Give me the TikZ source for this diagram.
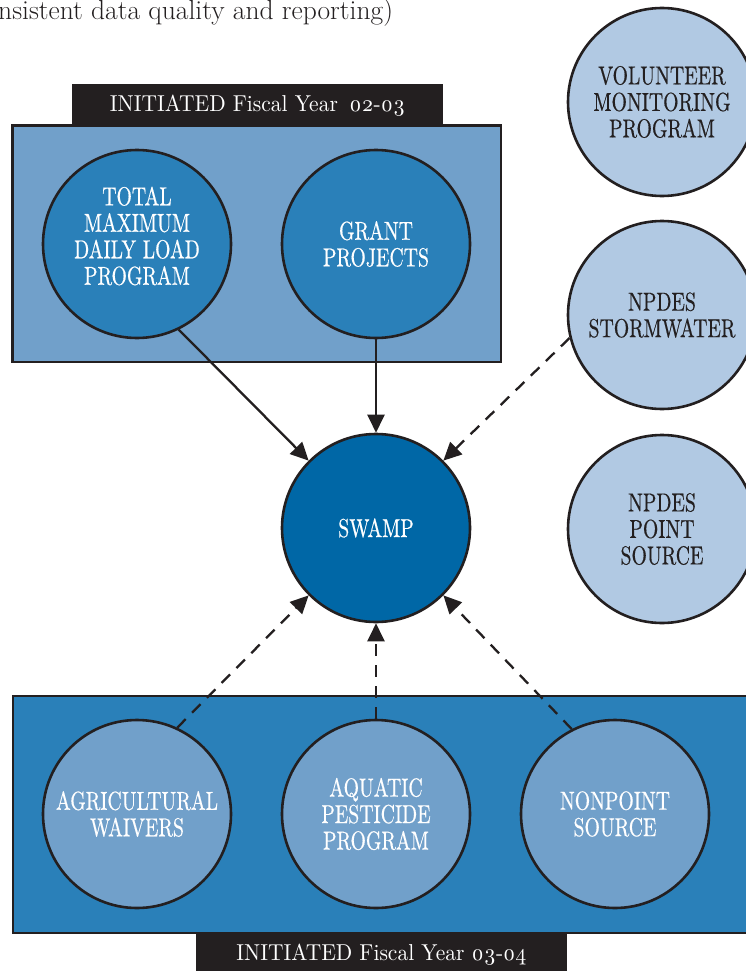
\documentclass[tikz,border=0pt]{standalone}
\usepackage{fontspec}
\usetikzlibrary{arrows.meta}
\newfontfamily\condfont{lmroman10-regular.otf}[FakeStretch=0.76,FakeBold=0.5]
\newfontfamily\labelfont{lmroman10-regular.otf}[FakeStretch=0.935,Numbers=OldStyle]
\definecolor{dark}{HTML}{231F20}
\definecolor{lightbox}{HTML}{71A0CA}
\definecolor{midblue}{HTML}{2A80B9}
\definecolor{swampblue}{HTML}{0067A6}
\definecolor{pale}{HTML}{B1C9E3}
\tikzset{
  circ/.style={circle, draw=dark, line width=2.6pt, minimum size=188pt, inner sep=0pt,
    font=\condfont\fontsize{26}{26.5}\selectfont, align=center},
  ctext/.style={font=\condfont\fontsize{26}{26.5}\selectfont, align=center, inner sep=0pt},
  boxnode/.style={draw=dark, line width=2.5pt, inner sep=0pt},
  labelbox/.style={fill=dark, inner sep=0pt},
  labeltext/.style={font=\labelfont\fontsize{23}{26}\selectfont, text=white, inner sep=0pt},
  conn/.style={draw=dark, line width=2.3pt, -{Triangle[length=18pt,width=17pt]}},
  dconn/.style={conn, dash pattern=on 12pt off 9pt},
}
\begin{document}
\begin{tikzpicture}[x=1pt,y=-1pt]
\useasboundingbox (0,0) rectangle (746,971);
\clip (0,0) rectangle (746,971);
\fill[white] (0,0) rectangle (746,971);

% intro text
\node[anchor=base west, font=\fontsize{27.5}{32}\selectfont, text=dark, inner sep=0pt] (intro) at (-2,19.5) {nsistent data quality and reporting)};

% top group
\node[boxnode, fill=lightbox, minimum width=488.5pt, minimum height=236.5pt] (topbox) at (256.75,243.75) {};
\node[labelbox, minimum width=371pt, minimum height=41pt] (toplabel) at (257.5,104.5) {};
\node[labeltext, anchor=base] (toplabeltext) at (257.5,112) {INITIATED Fiscal Year\enspace 02-03};

\node[circ, fill=midblue] (tmdl) at (137,244) {};
\node[ctext, text=white] (tmdltext) at (137,236) {TOTAL\\MAXIMUM\\DAILY LOAD\\PROGRAM};
\node[circ, fill=midblue, text=white] (grant) at (376,244) {GRANT\\PROJECTS};

% bottom group
\node[boxnode, fill=midblue, minimum width=757pt, minimum height=237pt] (botbox) at (391.5,814.5) {};
\node[labelbox, minimum width=371pt, minimum height=50pt] (botlabel) at (381.5,959) {};
\node[labeltext, anchor=base] (botlabeltext) at (381.5,960) {INITIATED Fiscal Year 03-04};

\node[circ, fill=lightbox, text=white] (agri) at (137,814) {AGRICULTURAL\\WAIVERS};
\node[circ, fill=lightbox, text=white] (aqua) at (376,814) {AQUATIC\\PESTICIDE\\PROGRAM};
\node[circ, fill=lightbox, text=white] (nonp) at (615,814) {NONPOINT\\SOURCE};

% center and right
\node[circ, fill=swampblue, text=white] (swamp) at (376,528) {SWAMP};
\node[circ, fill=pale, text=dark] (vol) at (662,102) {VOLUNTEER\\MONITORING\\PROGRAM};
\node[circ, fill=pale, text=dark] (storm) at (662,315) {NPDES\\STORMWATER};
\node[circ, fill=pale, text=dark] (point) at (662,529) {NPDES\\POINT\\SOURCE};

% connectors
\draw[conn] (tmdl.-64.5) -- (swamp.135);
\draw[conn] (grant.south) -- (swamp.north);
\draw[dconn] (storm.194) -- (swamp.45);
\draw[dconn] (agri.65) -- (swamp.225);
\draw[dconn] (aqua.north) -- (swamp.south);
\draw[dconn] (nonp.117) -- (swamp.-45);
\end{tikzpicture}
\end{document}
